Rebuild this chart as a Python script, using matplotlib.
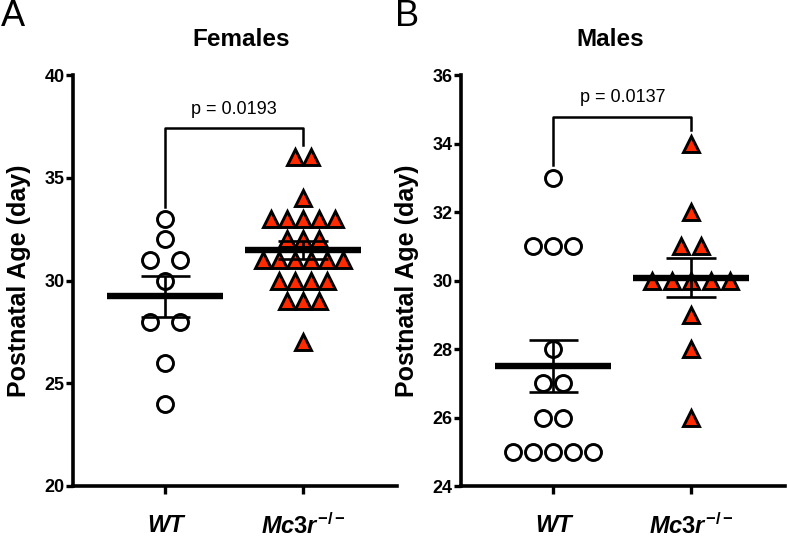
import matplotlib
matplotlib.use("Agg")
import matplotlib.pyplot as plt
import numpy as np

plt.rcParams["font.family"] = ["Liberation Sans", "DejaVu Sans"]
plt.rcParams["mathtext.fontset"] = "custom"
plt.rcParams["mathtext.it"] = "Liberation Sans:italic:bold"
plt.rcParams["mathtext.rm"] = "Liberation Sans:bold"

# --- data (postnatal age in days) ---
groups = ["WT", r"$\mathit{Mc3r}^{\mathit{-/-}}$"]
females_wt = [33, 32, 31, 31, 30, 28, 28, 26, 24]
females_ko = [36, 36, 34, 33, 33, 33, 33, 33, 32, 32, 32,
              31, 31, 31, 31, 31, 31, 30, 30, 30, 30, 29, 29, 29, 27]
males_wt = [33, 31, 31, 31, 28, 27, 27, 26, 26, 25, 25, 25, 25, 25]
males_ko = [34, 32, 31, 31, 30, 30, 30, 30, 30, 29, 28, 26]
p_females = "p = 0.0193"
p_males = "p = 0.0137"

RED = "#FF2A00"


def spread(values, center, step):
    """Place identical values side by side around the group centre."""
    values = np.asarray(values, dtype=float)
    x = np.zeros_like(values)
    for v in np.unique(values):
        idx = np.where(values == v)[0]
        k = len(idx)
        x[idx] = center + step * (np.arange(k) - (k - 1) / 2)
    return x


def draw_group(ax, values, center, step, marker, face):
    xs = spread(values, center, step)
    ax.plot(xs, values, linestyle="none", marker=marker,
            markersize=11.5 if marker == "o" else 12,
            markerfacecolor=face, markeredgecolor="black", markeredgewidth=2.1,
            zorder=3, clip_on=False)
    m = np.mean(values)
    sem = np.std(values, ddof=1) / np.sqrt(len(values))
    ax.hlines(m, center - 0.42, center + 0.42, color="black", lw=4.6, zorder=4)
    ax.vlines(center, m - sem, m + sem, color="black", lw=1.9, zorder=4)
    ax.hlines([m - sem, m + sem], center - 0.18, center + 0.18, color="black", lw=1.9, zorder=4)


def style_axes(ax, ylim, yticks):
    ax.set_xlim(-0.67, 1.68)
    ax.set_ylim(*ylim)
    ax.set_yticks(yticks)
    ax.set_xticks([0, 1])
    ax.set_xticklabels(groups, fontsize=17, fontweight="bold", style="italic")
    for lab in ax.get_yticklabels():
        lab.set_fontweight("bold")
    ax.tick_params(axis="y", labelsize=13, width=2.4, length=5, pad=1)
    ax.tick_params(axis="x", width=2.4, length=6, pad=14)
    for s in ["top", "right"]:
        ax.spines[s].set_visible(False)
    for s in ["left", "bottom"]:
        ax.spines[s].set_linewidth(2.6)
    ax.set_ylabel("Postnatal Age (day)", fontsize=18, fontweight="bold", labelpad=10)


def bracket(ax, y, left_bottom, right_bottom, text, text_y):
    ax.plot([0, 0, 1, 1], [left_bottom, y, y, right_bottom], color="black", lw=1.8,
            zorder=2, clip_on=False)
    ax.text(0.5, text_y, text, ha="center", va="center", fontsize=13)


fig = plt.figure(figsize=(7.87, 5.40), dpi=100)
ax1 = fig.add_axes([73 / 787, 1 - 486 / 540, 324 / 787, 411 / 540])
ax2 = fig.add_axes([461 / 787, 1 - 486 / 540, 324 / 787, 411 / 540])

# --- Panel A: females ---
draw_group(ax1, females_wt, 0, 0.217, "o", "white")
draw_group(ax1, females_ko, 1, 0.116, "^", RED)
style_axes(ax1, (20, 40), [20, 25, 30, 35, 40])
bracket(ax1, 37.42, 33.6, 36.6, p_females, 38.3)

# --- Panel B: males ---
draw_group(ax2, males_wt, 0, 0.145, "o", "white")
draw_group(ax2, males_ko, 1, 0.142, "^", RED)
style_axes(ax2, (24, 36), [24, 26, 28, 30, 32, 34, 36])
bracket(ax2, 34.78, 33.37, 34.39, p_males, 35.33)

fig.text(241 / 787, 1 - 40 / 540, "Females", ha="center", va="center",
         fontsize=17.5, fontweight="bold")
fig.text(610 / 787, 1 - 40 / 540, "Males", ha="center", va="center",
         fontsize=17.5, fontweight="bold")
fig.text(13 / 787, 1 - 17 / 540, "A", ha="center", va="center", fontsize=26)
fig.text(407 / 787, 1 - 17 / 540, "B", ha="center", va="center", fontsize=26)

fig.savefig("out.png", dpi=100)
